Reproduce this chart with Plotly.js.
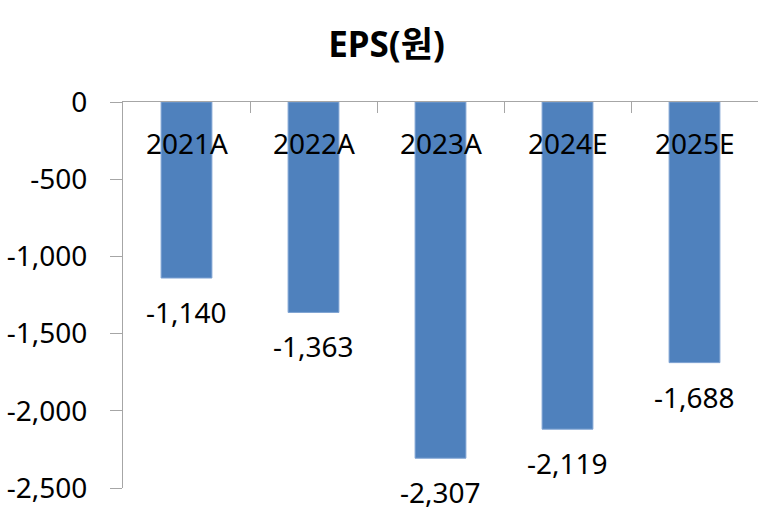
<!DOCTYPE html>
<html>
<head>
<meta charset="utf-8">
<script src="https://cdn.plot.ly/plotly-3.0.1.min.js"></script>
<style>html,body{margin:0;padding:0;background:#fff;}#chart{width:773px;height:516px;}</style>
</head>
<body>
<div id="chart"></div>
<script>
const categories = ['2021A', '2022A', '2023A', '2024E', '2025E'];
const epsValues = [-1140, -1363, -2307, -2119, -1688];
const epsLabels = ['-1,140', '-1,363', '-2,307', '-2,119', '-1,688'];
const yTickVals = [0, -500, -1000, -1500, -2000, -2500];
const yTickText = ['0', '-500', '-1,000', '-1,500', '-2,000', '-2,500'];

const FONT = 'Noto Sans, Noto Sans CJK KR, sans-serif';

const trace = {
  type: 'bar',
  x: categories,
  y: epsValues,
  marker: { color: '#4F81BD', line: { color: '#7FA3D3', width: 1 } },
  hoverinfo: 'skip'
};

const valueAnnotations = categories.map((c, i) => ({
  x: c, y: epsValues[i], xref: 'x', yref: 'y',
  text: epsLabels[i], showarrow: false,
  yanchor: 'middle', yshift: -34,
  font: { family: FONT, size: 28, color: '#000' }
}));

const categoryAnnotations = categories.map(c => ({
  x: c, y: 0, xref: 'x', yref: 'y',
  text: c, showarrow: false,
  yanchor: 'middle', yshift: -41,
  font: { family: FONT, size: 28, color: '#000' }
}));

const layout = {
  width: 773, height: 516,
  margin: { l: 123, r: 15, t: 102, b: 28 },
  paper_bgcolor: '#fff', plot_bgcolor: '#fff',
  font: { family: FONT, size: 28, color: '#000' },
  title: {
    text: 'EPS(원)', x: 0.5, xanchor: 'center', y: 1 - 45 / 516, yanchor: 'middle', yref: 'container',
    font: { family: FONT, size: 35, weight: 700, color: '#000' }
  },
  bargap: 0.6,
  showlegend: false,
  xaxis: {
    type: 'category', side: 'top',
    showline: true, linecolor: '#A6A6A6', linewidth: 1,
    ticks: 'inside', tickson: 'boundaries', ticklen: 11, tickcolor: '#A6A6A6',
    showticklabels: false,
    showgrid: false, zeroline: false
  },
  yaxis: {
    range: [-2500, 0], autorange: false,
    tickvals: yTickVals, ticktext: yTickText,
    showline: true, linecolor: '#A6A6A6', linewidth: 1,
    ticks: 'outside', ticklen: 12, tickcolor: '#A6A6A6',
    ticklabelstandoff: 17,
    showgrid: false, zeroline: false,
    tickfont: { family: FONT, size: 28, color: '#000' }
  },
  annotations: valueAnnotations.concat(categoryAnnotations)
};

Plotly.newPlot('chart', [trace], layout, { displayModeBar: false, staticPlot: true });
</script>
</body>
</html>
